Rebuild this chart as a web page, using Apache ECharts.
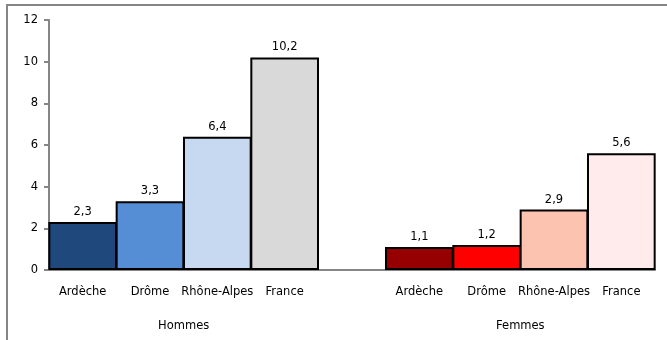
<!DOCTYPE html>
<html>
<head>
<meta charset="utf-8">
<script src="https://cdn.jsdelivr.net/npm/echarts@6/dist/echarts.min.js"></script>
<style>
  html, body { margin: 0; padding: 0; background: #fff; }
  #chart { width: 667px; height: 340px; }
</style>
</head>
<body>
<div id="chart"></div>
<script>
// Regions compared within each sex group; an empty slot separates the two groups.
const regions = ['Ardèche', 'Drôme', 'Rhône-Alpes', 'France'];
const groups = ['Hommes', 'Femmes'];
const hommesValues = [2.3, 3.3, 6.4, 10.2];
const femmesValues = [1.1, 1.2, 2.9, 5.6];
const hommesColors = ['#1F497D', '#558ED5', '#C6D9F1', '#D9D9D9'];
const femmesColors = ['#960000', '#FF0000', '#FCC4B0', '#FFEBEB'];
const yTicks = [0, 2, 4, 6, 8, 10, 12];

const categories = regions.concat(['']).concat(regions);

const barData = [];
hommesValues.forEach((v, i) => barData.push({ value: v, itemStyle: { color: hommesColors[i] } }));
barData.push({ value: '-', itemStyle: { color: 'transparent' }, label: { show: false } });
femmesValues.forEach((v, i) => barData.push({ value: v, itemStyle: { color: femmesColors[i] } }));

const font = 'DejaVu Sans';
const fs = 11.5;
const chart = echarts.init(document.getElementById('chart'));
chart.setOption({
  animation: false,
  textStyle: { fontFamily: font },
  grid: { left: 49, right: 12, top: 20, bottom: 70, containLabel: false },
  xAxis: [
    {
      type: 'category',
      data: categories,
      axisLine: { lineStyle: { color: '#868686', width: 2 } },
      axisTick: { show: false },
      axisLabel: { color: '#000', fontSize: fs, margin: 16, interval: 0 }
    },
    {
      // group captions centred under each block of four bars
      type: 'value',
      position: 'bottom',
      offset: 42,
      min: 0,
      max: 9,
      interval: 1,
      axisLine: { show: false },
      axisTick: { show: false },
      splitLine: { show: false },
      axisLabel: {
        color: '#000', fontSize: fs, showMinLabel: true, showMaxLabel: true,
        formatter: v => (v === 2 ? groups[0] : v === 7 ? groups[1] : '')
      }
    }
  ],
  yAxis: {
    type: 'value',
    min: yTicks[0],
    max: yTicks[yTicks.length - 1],
    interval: 2,
    axisLine: { show: true, lineStyle: { color: '#868686', width: 2 } },
    axisTick: { show: true, inside: false, length: 5, lineStyle: { color: '#868686', width: 2 } },
    splitLine: { show: false },
    axisLabel: { color: '#000', fontSize: fs, margin: 11 }
  },
  series: [{
    type: 'bar',
    xAxisIndex: 0,
    data: barData,
    barWidth: '102%',
    itemStyle: { borderColor: '#000', borderWidth: 2 },
    label: {
      show: true,
      position: 'top',
      distance: 4,
      color: '#000',
      fontSize: fs,
      fontFamily: font,
      formatter: p => String(p.value).replace('.', ',')
    }
  }],
  graphic: [{
    type: 'rect',
    shape: { x: 7, y: 5, width: 700, height: 400 },
    style: { fill: 'none', stroke: '#868686', lineWidth: 2 },
    silent: true,
    z: 100
  }]
});
</script>
</body>
</html>
